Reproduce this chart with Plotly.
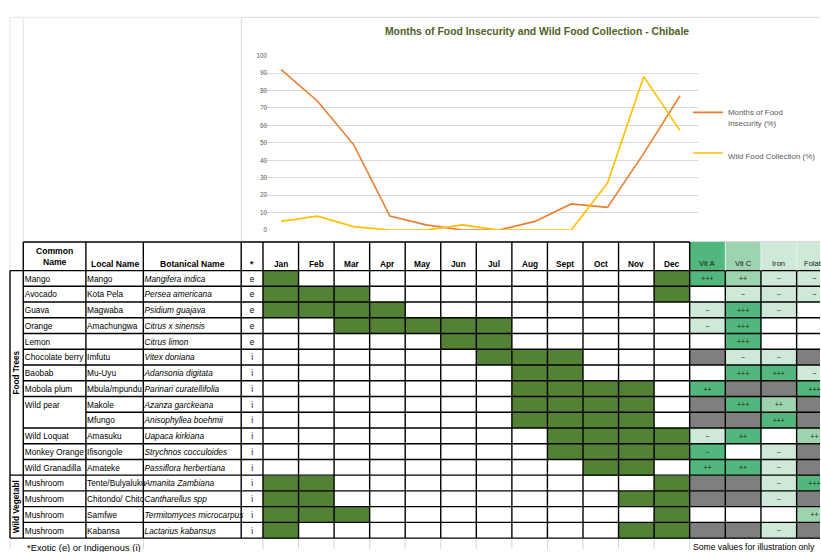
import plotly.graph_objects as go

# ---------------- data ----------------
months = ["Jan", "Feb", "Mar", "Apr", "May", "Jun", "Jul", "Aug", "Sept", "Oct", "Nov", "Dec"]
food_insecurity = [92, 74, 49, 8, 3, 0, 0, 5, 15, 13, 44, 77]
wild_food_collection = [5, 8, 2, 0, 0, 3, 0, 0, 0, 27, 88, 57]

common_names = ["Mango", "Avocado", "Guava", "Orange", "Lemon", "Chocolate berry", "Baobab",
                "Mobola plum", "Wild pear", "", "Wild Loquat", "Monkey Orange", "Wild Granadilla",
                "Mushroom", "Mushroom", "Mushroom", "Mushroom"]
local_names = ["Mango", "Kota Pela", "Magwaba", "Amachungwa", "", "Imfutu", "Mu-Uyu",
               "Mbula/mpundu", "Makole", "Mfungo", "Amasuku", "Ifisongole", "Amateke",
               "Tente/Bulyaluku", "Chitondo/ Chito", "Samfwe", "Kabansa"]
botanical_names = ["Mangifera indica", "Persea americana", "Psidium guajava", "Citrus x sinensis",
                   "Citrus limon", "Vitex doniana", "Adansonia digitata", "Parinari curatellifolia",
                   "Azanza garckeana", "Anisophyllea boehmii", "Uapaca kirkiana",
                   "Strychnos cocculoides", "Passiflora herbertiana", "Amanita Zambiana",
                   "Cantharellus spp", "Termitomyces microcarpus", "Lactarius kabansus"]
origin = ["e", "e", "e", "e", "e", "i", "i", "i", "i", "i", "i", "i", "i", "i", "i", "i", "i"]
section_names = ["Food Trees", "Wild Vegetabl"]
section_sizes = [13, 4]

seasons = [
    ["Jan", "Dec"],
    ["Jan", "Feb", "Mar", "Dec"],
    ["Jan", "Feb", "Mar", "Apr"],
    ["Mar", "Apr", "May", "Jun", "Jul"],
    ["Jun", "Jul"],
    ["Jul", "Aug", "Sept"],
    ["Aug", "Sept"],
    ["Aug", "Sept", "Oct", "Nov"],
    ["Aug", "Sept", "Oct", "Nov"],
    ["Aug", "Sept", "Oct", "Nov"],
    ["Sept", "Oct", "Nov", "Dec"],
    ["Sept", "Oct", "Nov", "Dec"],
    ["Oct", "Nov"],
    ["Jan", "Feb", "Dec"],
    ["Jan", "Feb", "Nov", "Dec"],
    ["Jan", "Feb", "Mar", "Dec"],
    ["Jan", "Nov", "Dec"],
]

nutrient_names = ["Vit A", "Vit C", "Iron", "Folate"]
# level codes: 0 none, 1 low, 2 medium, 3 high, 4 no data
vit_a_symbols = ["+++", "", "~", "~", "", "", "", "++", "", "", "~", "~", "++", "", "", "", ""]
vit_a_levels = [3, 0, 1, 1, 0, 4, 0, 3, 4, 4, 1, 3, 3, 4, 4, 0, 4]
vit_c_symbols = ["++", "~", "+++", "+++", "+++", "~", "+++", "", "+++", "", "++", "", "++", "", "", "", ""]
vit_c_levels = [2, 1, 3, 3, 3, 1, 3, 4, 3, 4, 3, 0, 3, 4, 4, 0, 4]
iron_symbols = ["~", "~", "~", "", "", "~", "+++", "", "++", "+++", "", "~", "~", "~", "~", "", "~"]
iron_levels = [1, 1, 1, 0, 0, 1, 3, 4, 2, 3, 0, 1, 1, 1, 1, 0, 1]
folate_symbols = ["~", "~", "", "", "", "", "~", "+++", "", "", "++", "", "", "+++", "", "++", ""]
folate_levels = [1, 1, 0, 0, 0, 4, 1, 3, 4, 4, 2, 4, 4, 3, 4, 2, 4]
nutrient_header_levels = [3, 2, 1, 1]

header_labels = ["Common<br>Name", "Local Name", "Botanical Name", "*"]
footnote = "*Exotic (e) or Indigenous (i)"
side_note = "Some values for illustration only"
chart_title = "Months of Food Insecurity and Wild Food Collection - Chibale"

# ---------------- style / geometry ----------------
W, H = 821, 552
FONT_N = "Liberation Sans, Arial, sans-serif"
FONT_R = "Liberation Sans, Arial, sans-serif"
ORANGE, YELLOW = "#ED7D31", "#FFC000"
SEASON_GREEN = "#548235"
NUTR_COLORS = ["#FFFFFF", "#CFE9D9", "#9DD3AF", "#52B77C", "#7F7F7F"]
GRID = "#D9D9D9"
BODY_SIZE = 8.3

PLOT_L, PLOT_R = 263.3, 699.0
Y0_PX, Y100_PX = 229.0, 52.3

fixed_edges = [10.0, 23.3, 86.0, 143.5, 241.5]
MONTH_W, NUTR_W = 35.6, 35.7
month_edges = [263.3 + k * MONTH_W for k in range(len(months) + 1)]
nutr_edges = [month_edges[-1] + k * NUTR_W for k in range(len(nutrient_names) + 1)]
col_edges = fixed_edges + month_edges + nutr_edges[1:]
HEAD_TOP, BODY_TOP, ROW_H = 241.0, 270.0, 15.94
n_rows = len(common_names)
row_edges = [BODY_TOP + k * ROW_H for k in range(n_rows + 1)]
row_mid = [BODY_TOP + (k + 0.5) * ROW_H + 1.2 for k in range(n_rows)]
BODY_BOT = row_edges[-1]

fig = go.Figure()

# ---------------- line chart ----------------
fig.add_trace(go.Scatter(x=months, y=food_insecurity, mode="lines",
                         name="Months of Food<br>Insecurity (%)", legendgroup="a",
                         line=dict(color=ORANGE, width=1.6), cliponaxis=False,
                         hoverinfo="skip", xaxis="x", yaxis="y"))
fig.add_trace(go.Scatter(x=months, y=wild_food_collection, mode="lines",
                         name="Wild Food Collection (%)", legendgroup="b",
                         line=dict(color=YELLOW, width=1.6), cliponaxis=False,
                         hoverinfo="skip", xaxis="x", yaxis="y"))

# ---------------- table fills ----------------
season_z = [[1 if m in s else 0 for m in months] for s in seasons]
fig.add_trace(go.Heatmap(z=season_z, x=month_edges, y=row_edges,
                         colorscale=[[0, "#FFFFFF"], [1, SEASON_GREEN]], zmin=0, zmax=1,
                         showscale=False, hoverinfo="skip", xaxis="x2", yaxis="y2"))

nutr_levels = [vit_a_levels, vit_c_levels, iron_levels, folate_levels]
nutr_symbols = [vit_a_symbols, vit_c_symbols, iron_symbols, folate_symbols]
nutr_z = [[nutr_levels[j][i] for j in range(len(nutrient_names))] for i in range(n_rows)]
disc = []
nlev = len(NUTR_COLORS)
for i, c in enumerate(NUTR_COLORS):
    disc.append([i / nlev, c])
    disc.append([(i + 1) / nlev, c])
fig.add_trace(go.Heatmap(z=nutr_z, x=nutr_edges, y=row_edges, colorscale=disc,
                         zmin=-0.5, zmax=nlev - 0.5, showscale=False, hoverinfo="skip",
                         xaxis="x2", yaxis="y2"))
fig.add_trace(go.Heatmap(z=[nutrient_header_levels], x=nutr_edges, y=[HEAD_TOP, BODY_TOP],
                         colorscale=disc, zmin=-0.5, zmax=nlev - 0.5, showscale=False,
                         hoverinfo="skip", xaxis="x2", yaxis="y2"))

# ---------------- table borders ----------------
bx, by = [], []
def seg(x0, y0, x1, y1):
    bx.extend([x0, x1, None]); by.extend([y0, y1, None])

section_breaks = [0]
for s in section_sizes:
    section_breaks.append(section_breaks[-1] + s)
merged_common_break = common_names.index("") if "" in common_names else -1
seg(col_edges[1], HEAD_TOP, month_edges[-1], HEAD_TOP)
for x in col_edges[1:len(fixed_edges) + len(months) + 1]:
    seg(x, HEAD_TOP, x, BODY_TOP)
for k, y in enumerate(row_edges):
    if k in section_breaks:
        seg(col_edges[0], y, col_edges[-1], y)
    elif k == merged_common_break:
        seg(col_edges[2], y, col_edges[-1], y)
    else:
        seg(col_edges[1], y, col_edges[-1], y)
for x in col_edges:
    seg(x, BODY_TOP, x, BODY_BOT)
fig.add_trace(go.Scatter(x=bx, y=by, mode="lines", line=dict(color="black", width=1.4),
                         showlegend=False, hoverinfo="skip", xaxis="x2", yaxis="y2"))

# light separators in nutrient header
lx, ly = [], []
for x in nutr_edges[1:-1]:
    lx.extend([x, x, None]); ly.extend([HEAD_TOP, BODY_TOP, None])
fig.add_trace(go.Scatter(x=lx, y=ly, mode="lines", line=dict(color="#E8F3EC", width=1),
                         showlegend=False, hoverinfo="skip", xaxis="x2", yaxis="y2"))

# faint sheet gridlines in footer row
fx, fy = [], []
for x in [col_edges[0], col_edges[3]] + month_edges:
    fx.extend([x, x, None]); fy.extend([BODY_BOT + 1, H, None])
fig.add_trace(go.Scatter(x=fx, y=fy, mode="lines", line=dict(color="#D4D4D4", width=1),
                         showlegend=False, hoverinfo="skip", xaxis="x2", yaxis="y2"))

# ---------------- table text ----------------
def text_col(xs, texts, pos, size=BODY_SIZE, color="black", italic=False):
    t = [("<i>%s</i>" % s if (italic and s) else s) for s in texts]
    fig.add_trace(go.Scatter(x=xs, y=row_mid, mode="text", text=t, textposition=pos,
                             textfont=dict(family=FONT_N, size=size, color=color),
                             showlegend=False, hoverinfo="skip", cliponaxis=False,
                             xaxis="x2", yaxis="y2"))

text_col([col_edges[1] + 1.5] * n_rows, common_names, "middle right")
text_col([col_edges[2] + 1.2] * n_rows, local_names, "middle right")
text_col([col_edges[3] + 1.2] * n_rows, botanical_names, "middle right", italic=True)
text_col([(col_edges[4] + col_edges[5]) / 2] * n_rows, origin, "middle center")
for j in range(len(nutrient_names)):
    text_col([(nutr_edges[j] + nutr_edges[j + 1]) / 2] * n_rows, nutr_symbols[j],
             "middle center", size=7, color="#262626")

annotations = []
for i, lab in enumerate(header_labels):
    cx = (col_edges[i + 1] + col_edges[i + 2]) / 2
    yy = 255.5 if "<br>" in lab else 263
    annotations.append(dict(x=cx, y=yy, xref="x2", yref="y2", text="<b>%s</b>" % lab,
                            showarrow=False, xanchor="center", yanchor="middle",
                            font=dict(family=FONT_N, size=8.6, color="black")))
for k, m in enumerate(months):
    annotations.append(dict(x=(month_edges[k] + month_edges[k + 1]) / 2, y=263, xref="x2",
                            yref="y2", text="<b>%s</b>" % m, showarrow=False,
                            font=dict(family=FONT_N, size=8.3, color="black")))
for j, nm in enumerate(nutrient_names):
    annotations.append(dict(x=(nutr_edges[j] + nutr_edges[j + 1]) / 2, y=263, xref="x2",
                            yref="y2", text=nm, showarrow=False,
                            font=dict(family=FONT_N, size=7.6, color="#1A1A1A")))
for s, nm in enumerate(section_names):
    y0, y1 = row_edges[section_breaks[s]], row_edges[section_breaks[s + 1]]
    annotations.append(dict(x=(col_edges[0] + col_edges[1]) / 2, y=(y0 + y1) / 2,
                            xref="x2", yref="y2", text="<b>%s</b>" % nm, textangle=-90,
                            showarrow=False, font=dict(family=FONT_N, size=8.2, color="black")))
annotations.append(dict(x=25, y=550, xref="x2", yref="y2", text=footnote, showarrow=False,
                        xanchor="left", yanchor="middle",
                        font=dict(family=FONT_R, size=9.4, color="black")))
annotations.append(dict(x=nutr_edges[0] + 1, y=550, xref="x2", yref="y2", text=side_note,
                        showarrow=False, xanchor="left", yanchor="middle",
                        font=dict(family=FONT_R, size=8.6, color="black")))

# ---------------- decorations (sheet gridlines, chart frame) ----------------
shapes = [
    dict(type="rect", xref="x2", yref="y2", x0=241.5, x1=830, y0=13.5, y1=240.5,
         line=dict(color=GRID, width=1), fillcolor="rgba(0,0,0,0)", layer="below"),
    dict(type="line", xref="x2", yref="y2", x0=10, x1=241.5, y0=13.5, y1=13.5,
         line=dict(color="#E6E6E6", width=1), layer="below"),
    dict(type="line", xref="x2", yref="y2", x0=10, x1=10, y0=13.5, y1=270,
         line=dict(color="#E6E6E6", width=1), layer="below"),
    dict(type="line", xref="x2", yref="y2", x0=23.3, x1=23.3, y0=13.5, y1=241,
         line=dict(color="#E6E6E6", width=1), layer="below"),
]

fig.update_layout(
    width=W, height=H, margin=dict(l=0, r=0, t=0, b=0),
    paper_bgcolor="white", plot_bgcolor="rgba(0,0,0,0)",
    title=dict(text="<b>%s</b>" % chart_title, x=537 / W, xanchor="center",
               y=1 - 31 / H, yanchor="middle",
               font=dict(family=FONT_N, size=10.4, color="#4F6228")),
    xaxis=dict(domain=[PLOT_L / W, PLOT_R / W], type="category", range=[-0.5, len(months) - 0.5],
               showticklabels=False, showgrid=False, zeroline=False, showline=False,
               fixedrange=True, anchor="y"),
    yaxis=dict(domain=[1 - Y0_PX / H, 1 - Y100_PX / H], range=[0, 100], dtick=10,
               showgrid=True, gridcolor=GRID, gridwidth=1, zeroline=False, showline=False,
               ticks="", tickfont=dict(family=FONT_N, size=6.3, color="#595959"),
               ticklabelstandoff=-5, fixedrange=True, anchor="x"),
    xaxis2=dict(domain=[0, 1], range=[0, W], visible=False, fixedrange=True, anchor="y2"),
    yaxis2=dict(domain=[0, 1], range=[H, 0], visible=False, fixedrange=True, anchor="x2"),
    showlegend=True,
    legend=dict(x=689 / W, xanchor="left", y=1 - 98 / H, yanchor="top",
                font=dict(family=FONT_N, size=7.9, color="#595959"),
                bgcolor="rgba(0,0,0,0)", valign="top", traceorder="grouped",
                tracegroupgap=17),
    annotations=annotations,
    shapes=shapes,
)

fig.write_html("out.html", config={"displayModeBar": False, "staticPlot": True},
               post_script="document.body.style.margin='0';document.body.style.overflow='hidden';")
